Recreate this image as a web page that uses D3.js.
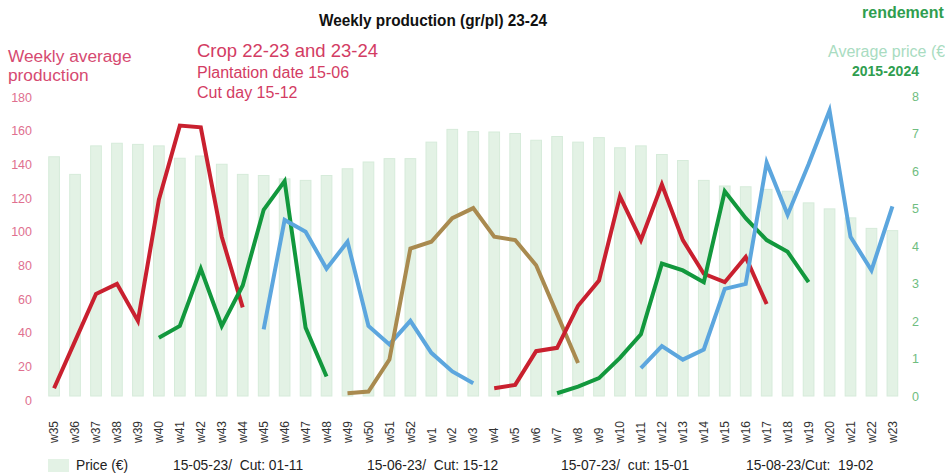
<!DOCTYPE html>
<html>
<head>
<meta charset="utf-8">
<script src="https://cdn.jsdelivr.net/npm/d3@7"></script>
<style>
  body { margin: 0; background: #fff; }
  svg { display: block; font-family: "Liberation Sans", Arial, sans-serif; }
</style>
</head>
<body>
<div id="chart"></div>
<script>
// weeks of the crop year
var weeks = ["w35","w36","w37","w38","w39","w40","w41","w42","w43","w44","w45","w46","w47","w48","w49","w50","w51","w52",
  "w1","w2","w3","w4","w5","w6","w7","w8","w9","w10","w11","w12","w13","w14","w15","w16","w17","w18","w19","w20","w21","w22","w23"]

// average price 2015-2024 (right axis)
var price = [6.38,5.91,6.67,6.74,6.71,6.67,6.34,6.40,6.18,5.91,5.88,5.79,5.75,5.88,6.06,6.24,6.33,6.33,
  6.77,7.11,7.05,7.04,7.00,6.82,6.92,6.77,6.89,6.62,6.67,6.44,6.28,5.75,5.60,5.58,5.51,5.46,5.15,4.99,4.75,4.47,4.41]

// weekly production, one array per plantation (left axis), start week first
var red1 = { start: "w35", values: [7,35,63,69,47,119,163,162,97,55] }
var green1 = { start: "w40", values: [37,44,78,44,68,113,130,43,14] }
var blue1 = { start: "w45", values: [42,107,100,78,94,44,33,47,28,17,10] }
var brown1 = { start: "w49", values: [4,5,24,90,94,108,114,97,95,80,51,22] }
var red2 = { start: "w4", values: [7,9,29,31,56,71,121,95,128,95,75,70,85,57] }
var green2 = { start: "w7", values: [4,8,13,25,39,81,77,70,124,108,95,88,70] }
var blue2 = { start: "w11", values: [19,32,24,30,66,69,141,110,140,172,97,77,115] }

var leftTicks = [0,20,40,60,80,100,120,140,160,180]
var rightTicks = [0,1,2,3,4,5,6,7,8]
var legendLabels = ["Price (€)", "15-05-23/  Cut: 01-11", "15-06-23/  Cut: 15-12", "15-07-23/  cut: 15-01", "15-08-23/Cut:  19-02"]

var W = 945, H = 475

var svg = d3.select("#chart")
  .append("svg")
  .attr("width", W)
  .attr("height", H)

var x = d3.scaleBand()
  .domain(weeks)
  .range([43.5, 903])
  .paddingInner(0.49)
  .paddingOuter(0.25)

var yL = d3.scaleLinear().domain([0, 180]).range([400, 97])
var yR = d3.scaleLinear().domain([0, 8]).range([396, 96])

// price bars
svg.append("g")
  .selectAll("rect")
  .data(price)
  .enter()
  .append("rect")
  .attr("x", function (d, i) { return x(weeks[i]); })
  .attr("y", function (d) { return yR(d); })
  .attr("width", x.bandwidth())
  .attr("height", function (d) { return yR(0) - yR(d); })
  .attr("fill", "#e3f2e5")
  .attr("stroke", "#d6ebda")
  .attr("stroke-width", 1)

// production lines
var series = [
  { s: red1, color: "#c9202f" },
  { s: green1, color: "#12983d" },
  { s: blue1, color: "#5ca6de" },
  { s: brown1, color: "#a98a4f" },
  { s: red2, color: "#c9202f" },
  { s: green2, color: "#12983d" },
  { s: blue2, color: "#5ca6de" }
]

var line = d3.line()
  .x(function (d) { return x(d.week) + x.bandwidth() / 2; })
  .y(function (d) { return yL(d.v); })

series.forEach(function (ser) {
  var i0 = weeks.indexOf(ser.s.start)
  var pts = ser.s.values.map(function (v, k) { return { week: weeks[i0 + k], v: v }; })
  svg.append("path")
    .datum(pts)
    .attr("d", line)
    .attr("fill", "none")
    .attr("stroke", ser.color)
    .attr("stroke-width", 4)
    .attr("stroke-linejoin", "miter")
})

// left axis
var axL = svg.append("g")
  .attr("transform", "translate(32,0)")
  .call(d3.axisLeft(yL).tickValues(leftTicks).tickSize(0).tickPadding(0))
axL.select(".domain").remove()
axL.selectAll("text")
  .attr("fill", "#e0708f")
  .style("font-size", "12.5px")
  .style("font-family", "Liberation Sans, Arial, sans-serif")

// right axis
var axR = svg.append("g")
  .attr("transform", "translate(912,0)")
  .call(d3.axisRight(yR).tickValues(rightTicks).tickSize(0).tickPadding(0))
axR.select(".domain").remove()
axR.selectAll("text")
  .attr("fill", "#6fbd80")
  .style("font-size", "12.5px")
  .style("font-family", "Liberation Sans, Arial, sans-serif")

// x labels, rotated
var axX = svg.append("g")
  .attr("transform", "translate(0,443)")
  .call(d3.axisBottom(x).tickSize(0).tickPadding(0))
axX.select(".domain").remove()
axX.selectAll("text")
  .attr("transform", "rotate(-90)")
  .attr("text-anchor", "start")
  .attr("x", 0)
  .attr("y", 0)
  .attr("dy", "0.35em")
  .attr("fill", "#333")
  .style("font-size", "12px")
  .style("font-family", "Liberation Sans, Arial, sans-serif")

// titles and notes
svg.append("text")
  .attr("x", 319).attr("y", 26)
  .attr("font-weight", "bold").attr("font-size", 16)
  .attr("textLength", 228).attr("lengthAdjust", "spacingAndGlyphs")
  .attr("fill", "#111")
  .text("Weekly production (gr/pl) 23-24")

svg.append("text")
  .attr("x", 862).attr("y", 18)
  .attr("font-weight", "bold").attr("font-size", 16)
  .attr("fill", "#2f9e4f")
  .text("rendement")

svg.append("text")
  .attr("x", 8).attr("y", 62)
  .attr("font-size", 17.3).attr("fill", "#d64a71")
  .text("Weekly average")
svg.append("text")
  .attr("x", 8).attr("y", 81)
  .attr("font-size", 17.3).attr("fill", "#d64a71")
  .text("production")

svg.append("text")
  .attr("x", 197).attr("y", 57)
  .attr("font-size", 18.5).attr("fill", "#d33c63")
  .text("Crop 22-23 and  23-24")
svg.append("text")
  .attr("x", 197).attr("y", 78)
  .attr("font-size", 16).attr("fill", "#d33c63")
  .text("Plantation date 15-06")
svg.append("text")
  .attr("x", 197).attr("y", 98)
  .attr("font-size", 16).attr("fill", "#d33c63")
  .text("Cut day 15-12")

svg.append("text")
  .attr("x", 828).attr("y", 57)
  .attr("font-size", 16).attr("fill", "#a9dcc1")
  .text("Average price (€)")
svg.append("text")
  .attr("x", 852).attr("y", 76)
  .attr("font-size", 14).attr("font-weight", "bold").attr("fill", "#2f9e4f")
  .text("2015-2024")

// legend
svg.append("rect")
  .attr("x", 48).attr("y", 459).attr("width", 21).attr("height", 13)
  .attr("fill", "#e3f2e5")
var legendX = [76, 173, 367, 561, 746]
svg.append("g")
  .selectAll("text")
  .data(legendLabels)
  .enter()
  .append("text")
  .attr("x", function (d, i) { return legendX[i]; })
  .attr("y", 470)
  .attr("font-size", 13.8)
  .attr("fill", "#222")
  .style("white-space", "pre")
  .text(function (d) { return d; })
</script>
</body>
</html>
